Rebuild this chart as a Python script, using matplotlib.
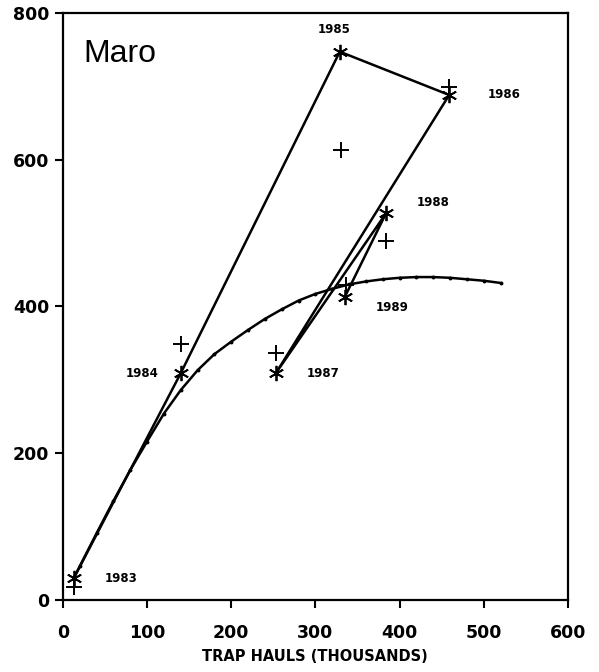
import matplotlib
matplotlib.use("Agg")
import matplotlib.pyplot as plt

# observed points (asterisks), joined year to year
years = ["1983", "1984", "1985", "1986", "1987", "1988", "1989"]
hauls = [13, 140, 329, 459, 253, 384, 335]
catch = [30, 309, 747, 688, 309, 527, 413]

# second set of points (plus signs)
plus_hauls = [13, 140, 331, 459, 253, 384, 336]
plus_catch = [18, 349, 613, 699, 337, 489, 429]

# fitted curve
curve_x = [13, 20, 40, 60, 80, 100, 120, 140, 160, 180, 200, 220, 240, 260,
           280, 300, 320, 340, 360, 380, 400, 420, 440, 460, 480, 500, 520]
curve_y = [30, 46, 91, 135, 177, 216, 254, 286, 313, 335, 352, 368, 383, 396,
           408, 417, 424, 430, 434, 437, 439, 440, 440, 439, 437, 435, 432]

# label offsets in points (dx, dy) and alignment
label_pos = {
    "1983": (22, 0, "left"),
    "1984": (-16, 0, "right"),
    "1985": (-4, 16, "center"),
    "1986": (28, 0, "left"),
    "1987": (22, 0, "left"),
    "1988": (22, 8, "left"),
    "1989": (22, -8, "left"),
}

fig = plt.figure(figsize=(5.99, 6.72), dpi=100)
ax = fig.add_axes([0.105, 0.107, 0.843, 0.874])

asterisk = (6, 2, 0)

ax.plot(curve_x, curve_y, color="black", lw=1.8, marker="o", ms=1.8)
ax.plot(hauls, catch, color="black", lw=1.8, marker=asterisk, ms=11, mew=1.3)
ax.plot(plus_hauls, plus_catch, ls="none", color="black", marker="+", ms=12, mew=1.4)

for yr, x, y in zip(years, hauls, catch):
    dx, dy, ha = label_pos[yr]
    ax.annotate(yr, (x, y), xytext=(dx, dy), textcoords="offset points",
                ha=ha, va="center", fontsize=8.5, fontweight="bold",
                family="DejaVu Sans")

ax.text(0.04, 0.93, "Maro", transform=ax.transAxes, fontsize=23,
        family="Liberation Sans", va="center", ha="left")

ax.set_xlim(0, 600)
ax.set_ylim(0, 800)
ax.set_xticks([0, 100, 200, 300, 400, 500, 600])
ax.set_yticks([0, 200, 400, 600, 800])
ax.tick_params(direction="out", length=6, width=1.5, labelsize=12.5, pad=11)
ax.tick_params(axis="y", pad=4)
for lab in ax.get_xticklabels() + ax.get_yticklabels():
    lab.set_fontweight("bold")
    lab.set_family("DejaVu Sans")
for s in ax.spines.values():
    s.set_linewidth(1.6)

ax.set_xlabel("TRAP HAULS (THOUSANDS)", fontsize=10.5, fontweight="bold",
              family="DejaVu Sans", labelpad=5)

fig.savefig("out.png", dpi=100)
